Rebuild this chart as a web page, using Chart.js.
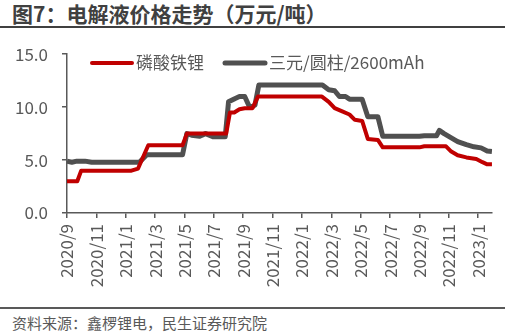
<!DOCTYPE html>
<html>
<head>
<meta charset="utf-8">
<script src="https://cdn.jsdelivr.net/npm/chart.js@4.4.1/dist/chart.umd.min.js"></script>
<style>
  body { margin: 0; width: 505px; height: 333px; background: #fff; position: relative; overflow: hidden;
         font-family: "Noto Sans CJK SC", "Noto Sans", sans-serif; }
  #title { position: absolute; left: 12px; top: 2px; font-size: 21px; font-weight: bold; color: #404040; line-height: 23px; }
  #topline { position: absolute; left: 0; top: 25.5px; width: 505px; height: 2px; background: #404040; }
  #box { position: absolute; left: 0; top: 30px; width: 505px; height: 275px; }
  #botline { position: absolute; left: 0; top: 307px; width: 505px; height: 1.5px; background: #595959; }
  #source { position: absolute; left: 12px; top: 314px; font-size: 15px; color: #595959; line-height: 18px; }
</style>
</head>
<body>
<div id="title">图7：电解液价格走势（万元/吨）</div>
<div id="topline"></div>
<div id="box"><canvas id="priceChart"></canvas></div>
<div id="botline"></div>
<div id="source">资料来源：鑫椤锂电，民生证券研究院</div>
<script>
// 磷酸铁锂 (万元/吨)
const lfpDates = ['2020-09-01', '2020-09-22', '2020-09-30', '2021-01-13', '2021-01-27', '2021-02-16',
  '2021-04-27', '2021-05-06', '2021-07-27', '2021-08-04', '2021-08-13', '2021-08-24', '2021-09-04',
  '2021-09-20', '2021-10-01', '2022-02-11', '2022-02-24', '2022-03-08', '2022-03-24', '2022-04-08',
  '2022-04-19', '2022-05-04', '2022-05-16', '2022-06-06', '2022-06-16', '2022-09-01', '2022-09-11',
  '2022-10-26', '2022-11-06', '2022-11-19', '2022-12-07', '2022-12-28', '2023-01-10', '2023-01-20',
  '2023-01-30'];
const lfpPrices = [3.0, 3.0, 4.0, 4.0, 4.2, 6.4,
  6.4, 7.5, 7.5, 9.5, 9.5, 9.8, 9.9,
  9.9, 11.0, 11.0, 10.5, 9.9, 9.6, 9.3,
  8.8, 8.7, 7.0, 6.9, 6.2, 6.2, 6.3,
  6.3, 5.8, 5.45, 5.25, 5.1, 4.8, 4.6,
  4.6];

// 三元/圆柱/2600mAh (万元/吨)
const nmcDates = ['2020-09-01', '2020-09-11', '2020-09-21', '2020-10-08', '2020-10-22', '2021-01-30',
  '2021-02-13', '2021-04-27', '2021-05-06', '2021-05-16', '2021-06-02', '2021-06-14', '2021-06-29',
  '2021-07-25', '2021-08-01', '2021-08-14', '2021-08-24', '2021-09-04', '2021-09-12', '2021-09-19',
  '2021-09-25', '2021-10-03', '2022-02-12', '2022-02-24', '2022-03-08', '2022-03-18', '2022-03-31',
  '2022-04-08', '2022-05-04', '2022-05-16', '2022-06-06', '2022-06-16', '2022-09-01', '2022-09-11',
  '2022-10-06', '2022-10-12', '2022-10-22', '2022-11-19', '2022-12-07', '2022-12-23', '2023-01-07',
  '2023-01-20', '2023-01-30'];
const nmcPrices = [4.9, 4.8, 4.9, 4.9, 4.8, 4.8,
  5.5, 5.5, 7.5, 7.35, 7.25, 7.5, 7.2,
  7.2, 10.5, 10.8, 11.0, 11.0, 10.2, 10.05,
  10.2, 12.1, 12.1, 11.65, 11.55, 11.0, 11.0,
  10.75, 10.75, 9.1, 9.1, 7.25, 7.25, 7.3,
  7.3, 7.8, 7.5, 6.75, 6.45, 6.25, 6.15,
  5.85, 5.8];

const seriesNames = ['磷酸铁锂', '三元/圆柱/2600mAh'];
const yTicks = [0, 5, 10, 15];

// months since 2020/9
function monthPos(s) {
  const [y, m, d] = s.split('-').map(Number);
  const dim = new Date(y, m, 0).getDate();
  return (y - 2020) * 12 + (m - 9) + (d - 1) / dim;
}
function toPoints(dates, vals) {
  return dates.map((d, i) => ({ x: monthPos(d), y: vals[i] }));
}
function monthLabel(v) {
  const k = 8 + v;
  return (2020 + Math.floor(k / 12)) + '/' + (k % 12 + 1);
}

const FONT = '"Noto Sans CJK SC", "Noto Sans", sans-serif';
const AXIS = '#595959';

const legendPlugin = {
  id: 'inlineLegend',
  afterDatasetsDraw(chart) {
    const c = chart.ctx;
    const items = [
      { x: 92, color: '#C00000', w: 4, text: seriesNames[0] },
      { x: 225, color: '#505050', w: 5, text: seriesNames[1] }
    ];
    const y = 63 - 30;
    c.save();
    c.font = '17px ' + FONT;
    c.textBaseline = 'middle';
    items.forEach(it => {
      c.strokeStyle = it.color;
      c.lineWidth = it.w;
      c.lineCap = 'round';
      c.beginPath();
      c.moveTo(it.x, y);
      c.lineTo(it.x + 40, y);
      c.stroke();
      c.fillStyle = '#595959';
      c.fillText(it.text, it.x + 44, y);
    });
    c.restore();
  }
};

const ctx = document.getElementById('priceChart').getContext('2d');
new Chart(ctx, {
  type: 'line',
  data: {
    datasets: [{
      label: seriesNames[0],
      data: toPoints(lfpDates, lfpPrices),
      borderColor: '#C00000',
      borderWidth: 4,
      pointRadius: 0,
      tension: 0,
      borderJoinStyle: 'round'
    }, {
      label: seriesNames[1],
      data: toPoints(nmcDates, nmcPrices),
      borderColor: '#505050',
      borderWidth: 5,
      pointRadius: 0,
      tension: 0,
      borderJoinStyle: 'round'
    }]
  },
  options: {
    responsive: true,
    maintainAspectRatio: false,
    animation: false,
    layout: { padding: { top: 17, right: 12, left: 0, bottom: 0 } },
    plugins: { legend: { display: false }, tooltip: { enabled: false } },
    scales: {
      x: {
        type: 'linear',
        min: 0,
        max: 28.95,
        afterFit(s) { s.height = 92; },
        border: { color: AXIS, width: 1.5 },
        grid: { drawOnChartArea: false, color: AXIS, tickLength: 5, lineWidth: 1.5 },
        ticks: {
          stepSize: 2,
          includeBounds: false,
          autoSkip: false,
          minRotation: 90,
          maxRotation: 90,
          padding: 6,
          color: '#595959',
          font: { family: FONT, size: 17 },
          callback: v => monthLabel(v)
        }
      },
      y: {
        min: 0,
        max: 15,
        afterFit(s) { s.width = 67; },
        afterBuildTicks(s) { s.ticks = yTicks.map(v => ({ value: v })); },
        border: { color: AXIS, width: 1.5 },
        grid: { drawOnChartArea: false, color: AXIS, tickLength: 5, lineWidth: 1.5 },
        ticks: {
          padding: 14,
          color: '#595959',
          font: { family: FONT, size: 17 },
          callback: v => v.toFixed(1)
        }
      }
    }
  },
  plugins: [legendPlugin]
});
</script>
</body>
</html>
